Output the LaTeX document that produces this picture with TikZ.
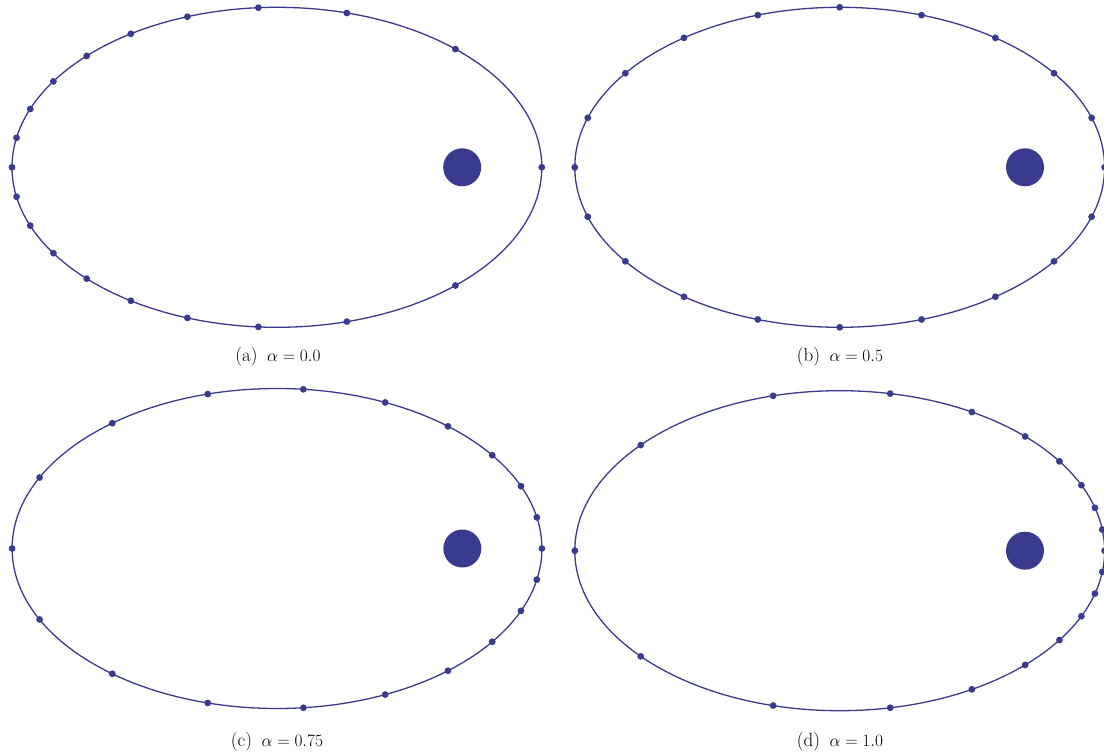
\documentclass[tikz,border=0pt]{standalone}
\usepackage{tikz}
\definecolor{orb}{RGB}{58,58,142}
\tikzset{
  orbit/.style={draw=orb,line width=1.3pt},
  sunbody/.style={fill=orb},
  pdot/.style={fill=orb},
  captext/.style={anchor=base,inner sep=0pt,font=\fontsize{19}{22}\selectfont}
}
% #1 cx, #2 cy, #3 eccentric anomaly (deg): draws the dot and its mirror
\newcommand\pdots[3]{%
  \fill[pdot] ({#1+264.9*cos(#3)},{#2-160*sin(#3)}) circle[radius=3.4pt];
  \fill[pdot] ({#1+264.9*cos(#3)},{#2+160*sin(#3)}) circle[radius=3.4pt];}
\newcommand\pdotsingle[3]{%
  \fill[pdot] ({#1+264.9*cos(#3)},{#2-160*sin(#3)}) circle[radius=3.4pt];}
\begin{document}
\begin{tikzpicture}[x=1pt,y=-1pt]
\useasboundingbox (0,0) rectangle (1104,754);
% ---------- (a) alpha = 0 : uniform mean anomaly ----------
\draw[orbit] (276.9,167.3) ellipse[x radius=264.9pt, y radius=160pt];
\fill[sunbody] (462.2,167.3) circle[radius=19pt];
\pdotsingle{276.9}{167.3}{0}
\pdotsingle{276.9}{167.3}{180}
\foreach \k in {1,...,9}{
  \pgfmathsetmacro\Mk{18*\k}
  \global\let\Ecur\Mk
  \foreach \i in {1,...,45}{
    \pgfmathsetmacro\tmp{\Mk+40.107*sin(\Ecur)}
    \global\let\Ecur\tmp
  }
  \pdots{276.9}{167.3}{\Ecur}
}
\node[captext] (capa) at (278,361.7) {(a)\enspace$\alpha = 0.0$};
% ---------- (b) alpha = 0.5 : uniform eccentric anomaly ----------
\draw[orbit] (839.7,167.3) ellipse[x radius=264.9pt, y radius=160pt];
\fill[sunbody] (1025,167.3) circle[radius=19pt];
\pdotsingle{839.7}{167.3}{0}
\pdotsingle{839.7}{167.3}{180}
\foreach \k in {1,...,9}{
  \pdots{839.7}{167.3}{18*\k}
}
\node[captext] (capb) at (840,361.7) {(b)\enspace$\alpha = 0.5$};
% ---------- (c) alpha = 0.75 ----------
\draw[orbit] (277,548.5) ellipse[x radius=264.9pt, y radius=160pt];
\fill[sunbody] (462.3,548.5) circle[radius=19pt];
\pdotsingle{277}{548.5}{0}
\pdotsingle{277}{548.5}{180}
\gdef\Ssum{0}
\foreach \j in {1,...,180}{
  \pgfmathsetmacro\tmp{\Ssum+1/sqrt(1-0.7*cos(\j-0.5))}
  \global\let\Ssum\tmp
}
\global\let\Half\Ssum
\gdef\Ssum{0}
\gdef\kk{1}
\foreach \j in {1,...,180}{
  \pgfmathsetmacro\fv{1/sqrt(1-0.7*cos(\j-0.5))}
  \pgfmathsetmacro\new{\Ssum+\fv}
  \pgfmathsetmacro\target{\kk*\Half/10}
  \pgfmathtruncatemacro\flag{(\new>=\target) && (\kk<10)}
  \ifnum\flag=1
    \pgfmathsetmacro\Ek{\j-1+(\target-\Ssum)/\fv}
    \pdots{277}{548.5}{\Ek}
    \pgfmathtruncatemacro\tmpk{\kk+1}
    \global\let\kk\tmpk
  \fi
  \global\let\Ssum\new
}
\node[captext] (capc) at (277,746) {(c)\enspace$\alpha = 0.75$};
% ---------- (d) alpha = 1.0 : uniform true anomaly ----------
\draw[orbit] (839.7,550.7) ellipse[x radius=264.9pt, y radius=160pt];
\fill[sunbody] (1025,550.7) circle[radius=19pt];
\pdotsingle{839.7}{550.7}{0}
\pdotsingle{839.7}{550.7}{180}
\foreach \k in {1,...,9}{
  \pgfmathsetmacro\th{18*\k}
  \pgfmathsetmacro\dxv{264.9*(0.7+cos(\th))/(1+0.7*cos(\th))}
  \pgfmathsetmacro\dyv{160*sin(\th)/(1+0.7*cos(\th))*0.71414}
  \fill[pdot] ({839.7+\dxv},{550.7-\dyv}) circle[radius=3.4pt];
  \fill[pdot] ({839.7+\dxv},{550.7+\dyv}) circle[radius=3.4pt];
}
\node[captext] (capd) at (840,746) {(d)\enspace$\alpha = 1.0$};
\end{tikzpicture}
\end{document}
